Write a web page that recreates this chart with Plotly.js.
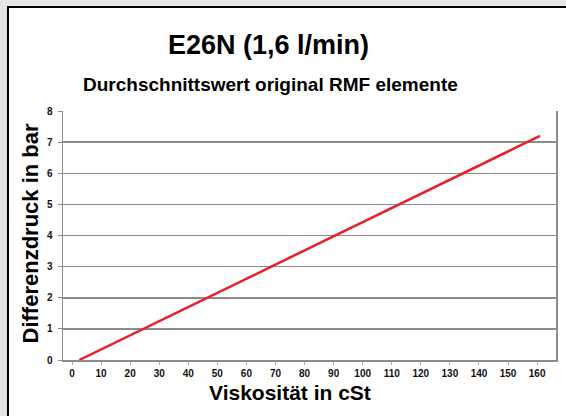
<!DOCTYPE html>
<html>
<head>
<meta charset="utf-8">
<script src="https://cdn.plot.ly/plotly-3.0.1.min.js"></script>
<style>html,body{margin:0;padding:0;background:#e6e6e6;}#chart{width:566px;height:416px;}</style>
</head>
<body>
<div id="chart"></div>
<script>
// Data
const viscosity = [2.5, 161];          // cSt
const pressure = [0, 7.2];             // bar
const xTickValues = [0,10,20,30,40,50,60,70,80,90,100,110,120,130,140,150,160];
const yTickValues = [0,1,2,3,4,5,6,7,8];

const titleText = 'E26N (1,6 l/min)';
const subtitleText = 'Durchschnittswert original RMF elemente';
const xTitleText = 'Viskosität in cSt';
const yTitleText = 'Differenzdruck in bar';

const FONT = '"Liberation Sans", Arial, sans-serif';

const trace = {
  x: viscosity,
  y: pressure,
  type: 'scatter',
  mode: 'lines',
  line: {color: '#e8202a', width: 2.5},
  hoverinfo: 'skip',
  showlegend: false
};

const layout = {
  width: 566,
  height: 416,
  margin: {l: 63, r: 10, t: 111, b: 56},
  paper_bgcolor: '#e6e6e6',
  plot_bgcolor: 'rgba(0,0,0,0)',
  font: {family: FONT, color: '#000'},
  showlegend: false,
  xaxis: {
    range: [-3.1, 166.5],
    tickvals: xTickValues,
    ticktext: xTickValues.map(String),
    showgrid: false,
    zeroline: false,
    showline: true,
    linecolor: '#8c8c8c',
    linewidth: 1.5,
    ticks: 'outside',
    ticklen: 3,
    tickcolor: '#b0b0b0',
    tickfont: {family: FONT, size: 10, color: '#111', weight: 'bold'},
    fixedrange: true
  },
  yaxis: {
    range: [0, 8],
    tickvals: yTickValues,
    ticktext: yTickValues.map(String),
    showgrid: true,
    gridcolor: '#8c8c8c',
    gridwidth: 1.5,
    zeroline: false,
    showline: true,
    mirror: true,
    linecolor: '#8c8c8c',
    linewidth: 1.5,
    ticks: 'outside',
    ticklen: 4,
    tickcolor: '#8c8c8c',
    tickfont: {family: FONT, size: 10, color: '#111', weight: 'bold'},
    ticklabelstandoff: 3,
    fixedrange: true
  },
  shapes: [
    {type: 'rect', xref: 'paper', yref: 'paper', layer: 'below',
     x0: -0.1116, x1: 1.2, y0: -0.5, y1: 1.4177,
     fillcolor: '#ffffff', line: {color: '#000', width: 2}}
  ],
  annotations: [
    {text: titleText, xref: 'paper', yref: 'paper', x: 0.416, y: 1.265,
     showarrow: false, xanchor: 'center', yanchor: 'middle',
     font: {family: FONT, size: 27, color: '#000', weight: 'bold'}},
    {text: subtitleText, xref: 'paper', yref: 'paper', x: 0.420, y: 1.108,
     showarrow: false, xanchor: 'center', yanchor: 'middle',
     font: {family: FONT, size: 19, color: '#000', weight: 'bold'}},
    {text: xTitleText, xref: 'paper', yref: 'paper', x: 0.46, y: -0.1325,
     showarrow: false, xanchor: 'center', yanchor: 'middle',
     font: {family: FONT, size: 21, color: '#000', weight: 'bold'}},
    {text: yTitleText, xref: 'paper', yref: 'paper', x: -0.065, y: 0.508,
     showarrow: false, xanchor: 'center', yanchor: 'middle', textangle: -90,
     font: {family: FONT, size: 22, color: '#000', weight: 'bold'}}
  ]
};

Plotly.newPlot('chart', [trace], layout, {displayModeBar: false, staticPlot: true});
</script>
</body>
</html>
